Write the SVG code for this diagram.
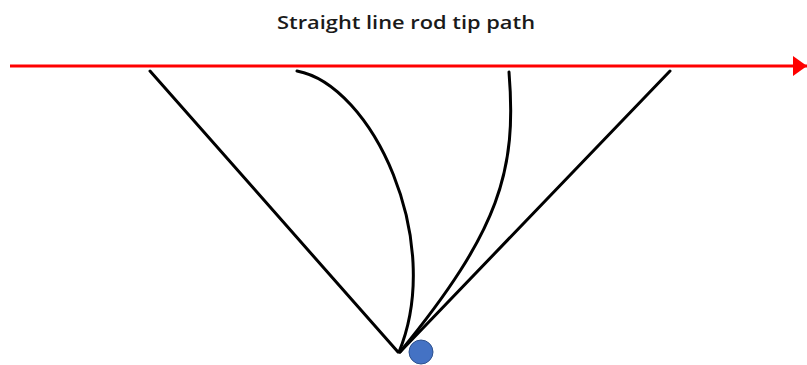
<svg xmlns="http://www.w3.org/2000/svg" width="807" height="365" viewBox="0 0 807 365">
<style>
.rod{fill:none;stroke:#000;stroke-width:3;stroke-linecap:round}
.path{stroke:#FF0000;stroke-width:3}
.title{font-family:"Open Sans","Liberation Sans",Arial,sans-serif;font-weight:600;font-size:18px;fill:#1a1a1a}
</style>
<defs>
<marker id="arrow" markerUnits="userSpaceOnUse" markerWidth="16" markerHeight="20" refX="14" refY="10" orient="auto">
<polygon points="0,0 14,10 0,20" fill="#FF0000"/>
</marker>
</defs>
<rect width="807" height="365" fill="#fff"/>
<g id="title"><text class="title" x="406" y="29" text-anchor="middle" textLength="258" lengthAdjust="spacingAndGlyphs">Straight line rod tip path</text></g>
<g id="connectors">
<line class="path" x1="10" y1="66" x2="807" y2="66" marker-end="url(#arrow)"/>
<path class="rod" d="M150,71 L398,352"/>
<path class="rod" d="M297,71 C372,85 445,240 399,352"/>
<path class="rod" d="M509,72 C517,170 500,230 400,352"/>
<path class="rod" d="M670,71 L400,352"/>
</g>
<g id="pivot"><circle cx="421" cy="352" r="12" fill="#4472C4" stroke="#2F528F" stroke-width="1"/></g>
</svg>
